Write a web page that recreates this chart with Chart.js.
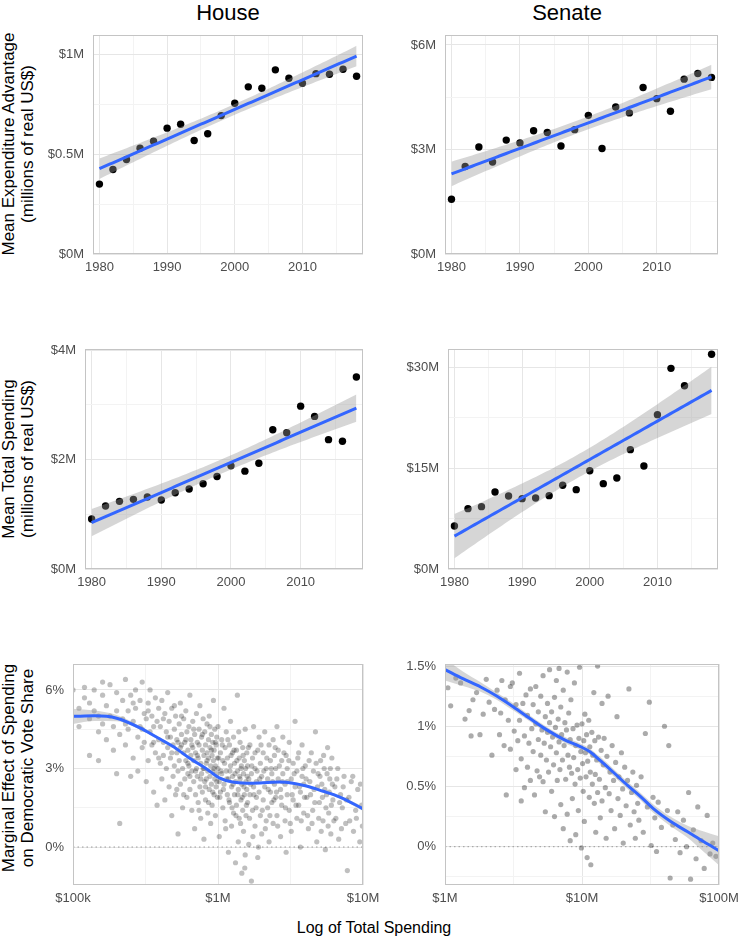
<!DOCTYPE html>
<html>
<head>
<meta charset="utf-8">
<script src="https://cdn.jsdelivr.net/npm/chart.js@4.4.1/dist/chart.umd.min.js"></script>
<style>
  body { margin: 0; width: 742px; height: 940px; background: #fff; position: relative; overflow: hidden;
         font-family: "Liberation Sans", Arial, Helvetica, sans-serif; }
  canvas { position: absolute; }
  .lbl { position: absolute; white-space: nowrap; color: #000; text-align: center;
         transform: translate(-50%, -50%); }
  .ytitle { font-size: 17px; line-height: 19px; transform: translate(-50%, -50%) rotate(-90deg); }
</style>
</head>
<body>
<div class="lbl" style="left:228px;top:13px;font-size:22px">House</div>
<div class="lbl" style="left:567px;top:13px;font-size:22px">Senate</div>
<div class="lbl ytitle" style="left:18px;top:144px">Mean Expenditure Advantage<br>(millions of real US$)</div>
<div class="lbl ytitle" style="left:18px;top:459px">Mean Total Spending<br>(millions of real US$)</div>
<div class="lbl ytitle" style="left:18px;top:768px">Marginal Effect of Spending<br>on Democratic Vote Share</div>
<div class="lbl" style="left:374px;top:928px;font-size:16px">Log of Total Spending</div>

<script>
Chart.defaults.font.family = '"Liberation Sans", Arial, Helvetica, sans-serif';

// ---- election-year series (millions of real US$) ----
var years = [1980, 1982, 1984, 1986, 1988, 1990, 1992, 1994, 1996, 1998,
             2000, 2002, 2004, 2006, 2008, 2010, 2012, 2014, 2016, 2018];
var houseAdvantage = [0.35, 0.423, 0.473, 0.53, 0.565, 0.63, 0.65, 0.568, 0.602, 0.693,
                      0.755, 0.837, 0.83, 0.922, 0.88, 0.855, 0.903, 0.9, 0.925, 0.89];
var senateAdvantage = [1.57, 2.51, 3.07, 2.64, 3.27, 3.19, 3.54, 3.49, 3.10, 3.57,
                       3.98, 3.03, 4.22, 4.05, 4.78, 4.46, 4.10, 5.02, 5.18, 5.07];
var houseTotal = [0.915, 1.152, 1.236, 1.273, 1.315, 1.261, 1.394, 1.461, 1.558, 1.691,
                  1.885, 1.788, 1.933, 2.545, 2.491, 2.976, 2.788, 2.364, 2.333, 3.509];
var senateTotal = [6.41, 8.99, 9.29, 11.47, 10.88, 10.48, 10.58, 10.93, 12.47, 11.82,
                   14.65, 12.72, 13.56, 17.78, 15.35, 23.0, 29.9, 27.3, null, 31.99];

// ---- marginal effect smooths: spending (millions), effect (%), band half-width ----
var houseCurveSpend  = [0.1, 0.141, 0.2, 0.29, 0.376, 0.49, 0.63, 0.83, 1.02, 1.26, 1.57, 1.95, 2.66, 3.29, 4.07, 5.25, 6.92, 10];
var houseCurveEffect = [4.99, 5.01, 4.92, 4.55, 4.20, 3.84, 3.41, 2.99, 2.64, 2.48, 2.44, 2.45, 2.48, 2.44, 2.33, 2.14, 1.91, 1.46];
var houseCurveHalf   = [0.29, 0.2, 0.12, 0.07, 0.05, 0.04, 0.04, 0.04, 0.04, 0.04, 0.04, 0.04, 0.04, 0.04, 0.05, 0.05, 0.06, 0.08];

var senateCurveSpend  = [1.0, 1.35, 1.82, 2.4, 3.16, 4.17, 5.5, 7.4, 9.8, 11.5, 13.5, 17, 21.4, 26.9, 33, 44.7, 59, 77.6, 100];
var senateCurveEffect = [1.47, 1.395, 1.326, 1.249, 1.16, 1.064, 0.972, 0.889, 0.829, 0.787, 0.718, 0.616, 0.511, 0.414, 0.318, 0.207, 0.124, 0.041, -0.033];
var senateCurveHalf   = [0.09, 0.06, 0.04, 0.03, 0.03, 0.025, 0.025, 0.025, 0.025, 0.025, 0.03, 0.03, 0.03, 0.03, 0.035, 0.04, 0.05, 0.085, 0.12];

// ---- candidate-level estimates: [total spending (millions), effect (%)] ----
var housePoints = [
  [0.10,6.0],[0.11,5.3],[0.11,4.6],[0.12,6.1],[0.12,5.7],[0.13,4.9],[0.13,3.5],[0.14,6.0],[0.14,5.2],[0.15,4.4],[0.15,3.3],[0.16,5.8],[0.16,4.7],[0.16,6.3],
  [0.17,5.4],[0.17,4.1],[0.18,6.2],[0.18,5.0],[0.19,3.7],[0.19,4.6],[0.2,5.9],[0.2,2.8],[0.21,4.3],[0.21,0.9],[0.22,5.6],[0.22,4.9],[0.23,6.4],[0.23,3.9],[0.24,5.2],[0.24,4.5],[0.25,2.7],[0.25,5.8],
  [0.26,4.8],[0.26,3.4],[0.27,6.0],[0.27,5.3],[0.28,4.2],[0.28,2.9],[0.29,5.6],[0.29,4.6],[0.3,3.8],[0.3,6.3],[0.31,5.1],[0.31,4.0],[0.32,2.5],[0.32,4.9],[0.33,5.5],[0.33,3.3],[0.34,4.4],[0.34,6.0],[0.35,3.9],[0.35,5.0],[0.36,2.1],[0.36,4.6],[0.37,5.7],[0.37,3.6],[0.38,4.8],[0.38,1.6],[0.39,4.1],[0.39,5.3],
  [0.4,3.2],[0.4,4.6],[0.41,5.6],[0.41,2.6],[0.42,4.0],[0.42,3.5],[0.43,5.1],[0.43,1.8],[0.44,4.4],[0.44,3.0],[0.45,5.9],[0.45,3.8],[0.46,2.3],[0.46,4.8],[0.47,3.4],[0.47,4.2],[0.48,1.2],[0.48,5.3],[0.49,3.9],[0.49,2.7],[0.5,4.5],[0.5,3.1],[0.51,5.0],[0.51,2.0],[0.52,3.6],[0.52,4.1],[0.53,0.5],[0.53,2.9],[0.54,4.7],[0.54,3.3],[0.55,5.5],[0.55,2.4],[0.56,3.9],[0.56,4.3],[0.57,1.5],[0.57,3.0],[0.58,4.9],[0.58,3.6],[0.59,2.6],[0.59,4.0],[0.6,5.2],[0.6,3.3],[0.61,1.9],[0.61,4.4],[0.62,2.8],[0.62,3.7],
  [0.63,4.6],[0.63,3.1],[0.64,2.2],[0.64,5.8],[0.65,3.5],[0.65,4.1],[0.66,1.4],[0.66,2.9],[0.67,3.8],[0.67,4.8],[0.68,2.5],[0.68,3.3],[0.69,0.7],[0.69,4.3],[0.7,3.6],[0.7,2.0],[0.71,5.1],[0.71,3.0],[0.72,4.0],[0.72,2.7],[0.73,1.7],[0.73,3.4],[0.74,4.5],[0.74,3.9],[0.75,2.3],[0.75,5.4],[0.76,3.2],[0.76,1.1],[0.77,4.2],[0.77,2.8],[0.78,3.7],[0.78,2.1],[0.79,4.9],[0.79,3.0],[0.8,0.3],[0.8,3.5],[0.81,2.5],[0.81,4.4],[0.82,1.8],[0.82,3.9],[0.83,3.2],[0.83,2.6],[0.84,4.7],[0.84,3.6],[0.85,1.3],[0.85,2.9],[0.86,4.1],[0.86,3.4],[0.87,2.2],[0.87,5.0],[0.88,3.8],[0.88,2.7],[0.89,0.9],[0.89,3.1],[0.9,4.3],[0.9,2.4],[0.91,3.5],[0.91,1.6],[0.92,4.0],[0.92,2.9],[0.93,3.3],[0.93,5.6],[0.94,2.0],[0.94,3.7],[0.95,2.6],[0.95,4.5],[0.96,1.2],[0.96,3.1],[0.97,3.9],[0.97,2.3],[0.98,4.2],[0.98,2.8],[0.99,3.4],[0.99,1.9],
  [1.0,3.0],[1.0,4.6],[1.02,2.5],[1.02,0.4],[1.04,3.6],[1.04,2.1],[1.06,4.1],[1.06,2.8],[1.08,1.5],[1.08,3.3],[1.1,5.3],[1.1,2.4],[1.12,3.8],[1.12,1.0],[1.14,2.9],[1.14,4.4],[1.16,2.0],[1.16,3.4],[1.18,-0.2],[1.18,2.6],[1.2,3.9],[1.2,1.7],[1.22,3.1],[1.22,4.8],[1.24,2.3],[1.24,0.8],[1.26,3.6],[1.26,2.7],[1.28,1.3],[1.28,4.2],[1.3,2.0],[1.3,3.2],[1.32,-0.6],[1.32,2.5],[1.34,3.7],[1.34,1.6],[1.36,2.9],[1.36,5.8],[1.38,0.2],[1.38,2.2],[1.4,3.4],[1.4,1.1],[1.42,4.0],[1.42,2.6],[1.44,1.8],[1.44,3.0],[1.46,-1.0],[1.46,2.4],[1.48,3.8],[1.48,1.4],[1.5,2.8],[1.5,0.6],[1.52,3.3],[1.52,2.0],[1.54,4.5],[1.54,-0.3],[1.56,2.5],[1.56,1.2],[1.58,3.6],[1.58,2.2],
  [1.6,1.7],[1.6,3.1],[1.63,2.6],[1.63,0.1],[1.66,3.9],[1.66,2.0],[1.7,-1.3],[1.7,2.8],[1.73,1.4],[1.73,3.4],[1.76,2.3],[1.76,4.6],[1.8,0.8],[1.8,3.0],[1.84,2.5],[1.84,1.9],[1.88,3.7],[1.88,-0.4],[1.92,2.1],[1.92,4.2],[1.96,1.2],[1.96,3.2],[2.0,2.7],[2.0,0.5],[2.05,3.6],[2.05,1.8],[2.1,2.3],[2.1,4.4],[2.15,1.0],[2.15,3.0],[2.2,2.6],[2.2,1.5],[2.25,3.9],[2.25,0.2],[2.3,2.1],[2.3,3.3],[2.35,1.7],[2.35,2.8],[2.4,4.1],[2.4,0.9],[2.45,2.4],[2.45,3.5],
  [2.5,1.9],[2.5,3.0],[2.55,4.6],[2.55,1.2],[2.6,2.6],[2.6,3.7],[2.7,0.4],[2.7,2.2],[2.75,3.3],[2.75,1.6],[2.8,2.8],[2.8,4.2],[2.9,1.0],[2.9,2.4],[2.95,3.5],[2.95,-0.2],[3.0,2.0],[3.0,3.0],[3.1,1.4],[3.1,4.0],[3.2,2.6],[3.2,0.6],[3.3,3.2],[3.3,1.8],[3.4,2.3],[3.4,4.8],[3.5,1.1],[3.5,2.9],[3.6,3.6],[3.6,1.6],[3.7,2.1],[3.7,0.0],[3.8,2.7],[3.8,3.9],[3.9,1.3],[3.9,2.4],
  [4.0,3.1],[4.1,1.9],[4.2,0.7],[4.3,2.5],[4.4,3.6],[4.5,1.4],[4.6,2.2],[4.7,4.4],[4.8,0.2],[4.9,2.8],[5.0,1.7],[5.1,3.3],[5.2,2.4],[5.3,1.0],[5.4,3.0],[5.5,-0.1],[5.6,2.0],[5.7,3.8],[5.8,1.3],[5.9,2.6],[6.0,0.5],[6.1,3.4],[6.2,1.8],
  [6.4,2.3],[6.5,1.1],[6.7,3.0],[6.8,0.3],[7.0,2.0],[7.2,1.5],[7.4,2.7],[7.6,0.9],[7.8,-0.9],[8.0,1.9],[8.3,2.5],[8.6,0.6],[8.9,1.4],[9.2,2.2],[9.5,0.2],[9.8,1.6],
  [0.52,2.2],[0.55,3.8],[0.58,2.0],[0.6,4.1],[0.62,3.2],[0.64,2.7],[0.66,3.9],[0.68,4.5],[0.7,2.9],[0.72,3.5],[0.74,1.4],[0.76,2.6],[0.78,4.3],[0.8,3.0],[0.82,2.3],[0.84,3.3],[0.86,1.7],[0.88,4.6],[0.9,3.7],[0.92,2.1],[0.94,3.0],[0.96,4.0],[0.98,2.5],
  [1.01,3.4],[1.03,1.9],[1.05,2.9],[1.07,3.9],[1.09,2.2],[1.11,3.2],[1.13,0.7],[1.15,2.6],[1.17,4.1],[1.19,1.8],[1.21,2.9],[1.23,3.5],[1.25,1.5],[1.27,2.4],[1.29,3.7],[1.31,2.8],[1.33,1.2],[1.35,3.3],[1.37,2.0],[1.39,4.4],[1.41,2.7],[1.43,0.9],[1.45,3.1],[1.47,1.9],[1.49,3.5],[1.51,2.3],[1.53,-0.8],[1.55,3.0],[1.57,1.6],[1.59,2.7],
  [1.62,3.8],[1.65,1.1],[1.68,2.4],[1.71,3.1],[1.74,0.4],[1.77,2.0],[1.8,3.6],[1.83,1.5],[1.86,2.9],[1.9,0.0],[1.94,2.6],[1.98,3.9],[2.02,1.4],[2.07,2.9],[2.12,0.7],[2.17,3.4],[2.22,2.2],[2.28,1.2],[2.33,3.0],[2.38,2.5],[2.43,1.8],[2.48,3.8],
  [2.53,2.1],[2.58,0.8],[2.65,3.1],[2.72,1.9],[2.78,2.5],[2.85,3.6],[2.92,1.5],[3.0,2.5],[3.08,3.3],[3.15,0.9],[3.25,2.0],[3.35,2.8],[3.45,1.6],[3.55,3.4],[3.65,2.3],[3.75,1.0],[3.85,3.0],[3.95,1.9],
  [4.05,2.6],[4.15,1.2],[4.25,3.3],[4.35,2.0],[4.45,0.9],[4.55,2.9],[4.65,1.7],[4.75,3.2],[4.85,2.3],[4.95,1.1],[5.05,2.7],[5.15,0.6],[5.25,1.9],[5.35,3.5],[5.45,2.2],[5.55,1.5],[5.65,2.8],[5.75,0.8],[5.85,2.1],[5.95,3.0],[6.05,1.6],[6.15,2.4],
  [6.3,1.0],[6.6,2.6],[6.9,1.7],[7.1,0.7],[7.3,2.3],[7.7,1.8],[8.1,1.0],[8.5,2.7],[9.0,1.1],[9.6,2.4],[9.9,0.8],
  [0.3,4.5],[0.33,5.2],[0.36,4.0],[0.39,3.4],[0.42,4.9],[0.45,4.2],[0.48,3.6],[0.5,5.4],[0.53,4.0],[0.56,5.0],[0.2,5.2],[0.23,4.7],[0.26,5.5],[0.13,5.5],[0.15,5.0]
];

var senatePoints = [
  [1.05,1.32],[1.1,1.17],[1.2,1.40],[1.3,1.36],[1.4,1.06],[1.5,1.13],[1.55,0.92],[1.6,1.22],[1.7,1.28],[1.8,0.93],[1.9,1.10],[2.0,1.39],[2.1,1.20],[2.2,0.76],[2.3,1.14],[2.4,1.30],[2.5,0.93],[2.55,1.11],[2.6,1.38],[2.7,0.84],[2.75,1.22],[2.8,0.43],[2.9,1.05],[3.0,1.33],[3.0,0.81],[3.1,1.36],[3.2,0.96],[3.3,0.64],[3.3,1.18],[3.4,0.88],[3.5,1.44],[3.5,1.05],[3.6,0.38],[3.6,0.73],[3.7,1.19],[3.8,0.92],[3.8,0.49],[3.9,1.26],[4.0,0.66],[4.0,1.09],[4.1,0.86],[4.2,1.31],[4.2,0.55],[4.3,0.98],[4.4,1.18],[4.4,0.79],[4.5,0.43],[4.6,1.02],[4.6,1.33],[4.7,0.63],[4.8,0.89],[4.8,1.12],[4.9,0.58],[5.0,1.25],[5.0,0.76],[5.1,0.97],[5.2,1.42],[5.2,0.54],[5.3,0.86],[5.4,1.08],[5.4,0.29],[5.5,0.72],[5.6,1.19],[5.6,0.95],[5.7,0.62],[5.8,1.03],[5.8,1.47],[5.9,0.83],[6.0,0.46],[6.0,1.12],[6.1,0.91],[6.2,0.68],[6.3,1.24],[6.3,0.25],[6.4,0.99],[6.5,0.78],[6.5,1.38],[6.6,0.55],[6.7,1.06],[6.8,0.87],[6.8,1.48],[6.9,0.64],[7.0,1.16],[7.0,0.35],[7.1,0.93],[7.2,0.72],[7.3,1.30],[7.3,0.15],[7.4,0.84],[7.5,1.03],[7.6,0.56],[7.7,0.97],[7.8,1.45],[7.8,0.27],[7.9,0.76],[8.0,1.11],[8.1,0.66],[8.2,0.05],[8.2,0.89],[8.3,1.22],[8.4,0.61],[8.5,0.40],[8.6,0.98],[8.7,0.74],[8.8,1.36],[8.9,0.52],[9.0,0.84],[9.0,0.10],[9.2,1.01],[9.3,0.64],[9.4,0.30],[9.5,0.90],[9.6,1.49],[9.7,0.57],[9.8,0.79],[9.9,-0.01],
  [10.0,1.02],[10.1,0.69],[10.2,0.46],[10.3,0.88],[10.4,0.21],[10.5,1.10],[10.6,0.78],[10.7,0.58],[10.8,0.93],[10.9,-0.09],[11.0,0.71],[11.2,1.05],[11.3,0.41],[11.4,0.83],[11.5,0.62],[11.6,-0.15],[11.8,0.95],[11.9,0.52],[12.0,0.76],[12.2,1.28],[12.3,0.36],[12.4,0.88],[12.5,0.60],[12.6,0.12],[12.8,0.72],[13.0,1.50],[13.0,0.45],[13.2,0.91],[13.4,0.56],[13.6,0.24],[13.8,0.80],[14.0,1.19],[14.0,0.38],[14.3,0.68],[14.5,0.90],[14.8,0.49],[15.0,0.07],[15.2,0.75],[15.5,1.25],[15.8,0.44],[16.0,0.62],[16.3,0.30],[16.6,0.84],[17.0,0.55],[17.3,0.15],[17.6,0.70],[18.0,1.08],[18.3,0.40],[18.6,0.58],[19.0,0.26],[19.4,0.78],[19.8,0.48],
  [20.0,0.03],[20.5,0.66],[21.0,0.34],[21.5,0.55],[22.0,1.31],[22.5,0.18],[23.0,0.45],[23.5,0.62],[24.0,0.29],[24.5,0.07],[25.0,0.51],[25.5,0.36],[26.0,0.22],[27.0,0.58],[28.0,0.12],[29.0,0.94],[30.0,0.33],[31.0,1.20],[32.0,0.01],[33.0,0.41],[34.0,0.24],[35.0,-0.04],[36.0,0.37],[38.0,0.16],[40.0,1.00],[42.0,0.30],[43.0,0.84],[44.0,-0.26],[46.0,0.18],[48.0,0.06],[50.0,0.29],[52.0,-0.05],[55.0,0.22],[58.0,0.00],[60.0,0.45],[62.0,-0.27],[65.0,0.14],[68.0,-0.10],[70.0,0.33],[74.0,0.05],[78.0,-0.18],[82.0,0.26],[86.0,-0.06],[90.0,0.03],[95.0,-0.08]
];

var BLUE = "#3366FF";
var BAND = "rgba(153,153,153,0.4)";
var PL = 2, YW = 62, PR = 30, PT = 8, XH = 26, PB = 2;

// ordinary least squares fit with 95% confidence band
function lmFit(xs, ys) {
  var pts = xs.map(function (x, i) { return [x, ys[i]]; }).filter(function (p) { return p[1] != null; });
  var n = pts.length, mx = 0, my = 0;
  pts.forEach(function (p) { mx += p[0] / n; my += p[1] / n; });
  var sxx = 0, sxy = 0;
  pts.forEach(function (p) { sxx += (p[0] - mx) * (p[0] - mx); sxy += (p[0] - mx) * (p[1] - my); });
  var b = sxy / sxx, a = my - b * mx, rss = 0;
  pts.forEach(function (p) { rss += Math.pow(p[1] - a - b * p[0], 2); });
  var s = Math.sqrt(rss / (n - 2));
  var t = n === 19 ? 2.110 : 2.101;
  var fit = [], lo = [], hi = [];
  for (var x = xs[0]; x <= xs[xs.length - 1] + 1e-9; x += 0.5) {
    var y = a + b * x, se = s * Math.sqrt(1 / n + (x - mx) * (x - mx) / sxx);
    fit.push({ x: x, y: y }); lo.push({ x: x, y: y - t * se }); hi.push({ x: x, y: y + t * se });
  }
  return { fit: fit, lo: lo, hi: hi };
}

function lmSets(xs, ys) {
  var f = lmFit(xs, ys);
  return [
    { type: "line", data: f.fit, borderColor: BLUE, borderWidth: 3, pointRadius: 0, order: 0 },
    { type: "line", data: f.hi, borderWidth: 0, pointRadius: 0, fill: false, order: 1 },
    { type: "line", data: f.lo, borderWidth: 0, pointRadius: 0, fill: "-1", backgroundColor: BAND, order: 1 },
    { type: "scatter", data: xs.map(function (x, i) { return { x: x, y: ys[i] }; }).filter(function (p) { return p.y != null; }),
      pointRadius: 3.7, backgroundColor: "#000", borderWidth: 0, order: 2 }
  ];
}

function smoothSets(spend, effect, half, points, alpha, radius, xmin, xmax) {
  return [
    { type: "line", data: spend.map(function (x, i) { return { x: x, y: effect[i] }; }),
      borderColor: BLUE, borderWidth: 3, pointRadius: 0, cubicInterpolationMode: "monotone", order: 0 },
    { type: "line", data: spend.map(function (x, i) { return { x: x, y: effect[i] + half[i] }; }),
      borderWidth: 0, pointRadius: 0, cubicInterpolationMode: "monotone", fill: false, order: 1 },
    { type: "line", data: spend.map(function (x, i) { return { x: x, y: effect[i] - half[i] }; }),
      borderWidth: 0, pointRadius: 0, cubicInterpolationMode: "monotone", fill: "-1", backgroundColor: BAND, order: 1 },
    { type: "scatter", data: points.map(function (p) { return { x: p[0], y: p[1] }; }),
      pointRadius: radius, backgroundColor: "rgba(0,0,0," + alpha + ")", borderWidth: 0, order: 2 },
    { type: "line", data: [{ x: xmin, y: 0 }, { x: xmax, y: 0 }], borderColor: "#9a9a9a",
      borderWidth: 1, borderDash: [1.5, 3], pointRadius: 0, order: 3 }
  ];
}

var framePlugin = {
  id: "frame",
  afterDatasetsDraw: function (chart) {
    var a = chart.chartArea, g = chart.ctx;
    g.save();
    g.strokeStyle = "#c4c4c4";
    g.lineWidth = 1;
    g.strokeRect(a.left + 0.5, a.top + 0.5, a.right - a.left - 1, a.bottom - a.top - 1);
    g.restore();
  }
};

function axis(cfg, isX) {
  var ticks = cfg.major.concat(cfg.minor).sort(function (p, q) { return p - q; });
  return {
    type: cfg.type || "linear",
    position: isX ? "bottom" : "left",
    min: cfg.min, max: cfg.max,
    afterBuildTicks: function (s) { s.ticks = ticks.map(function (v) { return { value: v }; }); },
    afterFit: function (s) {
      if (isX) { s.height = XH; s.paddingLeft = 0; s.paddingRight = 0; }
      else { s.width = YW; s.paddingTop = 0; s.paddingBottom = 0; }
    },
    ticks: {
      autoSkip: false, maxRotation: 0, minRotation: 0,
      padding: isX ? 6 : 9,
      color: "#4d4d4d",
      font: { size: 13 },
      callback: function (v) {
        var hit = cfg.major.some(function (m) { return Math.abs(m - v) < 1e-9 * Math.max(1, Math.abs(m)); });
        return hit ? cfg.fmt(v) : "";
      }
    },
    grid: {
      drawTicks: false,
      color: function (c) { return c.tick && c.tick.label ? "#e6e6e6" : "#f3f3f3"; },
      lineWidth: 1
    },
    border: { display: false }
  };
}

function panel(rect, xCfg, yCfg, datasets) {
  var c = document.createElement("canvas");
  var W = PL + YW + rect.w + PR, H = PT + rect.h + XH + PB;
  c.width = W; c.height = H;
  c.style.left = (rect.x - YW - PL) + "px";
  c.style.top = (rect.y - PT) + "px";
  document.body.appendChild(c);
  new Chart(c.getContext("2d"), {
    type: "scatter",
    data: { datasets: datasets },
    options: {
      responsive: false, devicePixelRatio: 1, animation: false, events: [],
      layout: { padding: { left: PL, right: PR, top: PT, bottom: PB } },
      plugins: { legend: { display: false }, tooltip: { enabled: false } },
      scales: { x: axis(xCfg, true), y: axis(yCfg, false) }
    },
    plugins: [framePlugin]
  });
}

var yearAxis = { min: 1979.05, max: 2018.95, major: [1980, 1990, 2000, 2010], minor: [1985, 1995, 2005, 2015],
                 fmt: function (v) { return String(v); } };
function money(v) { return "$" + v + "M"; }
function pct(v) { return v + "%"; }
function spendLabel(v) { return v < 1 ? "$" + Math.round(v * 1000) + "k" : "$" + Math.round(v) + "M"; }

panel({ x: 93, y: 35, w: 270, h: 219 }, yearAxis,
      { min: 0, max: 1.0965, major: [0, 0.5, 1], minor: [0.25, 0.75], fmt: money },
      lmSets(years, houseAdvantage));
panel({ x: 445, y: 35, w: 273, h: 219 }, yearAxis,
      { min: 0, max: 6.287, major: [0, 3, 6], minor: [1.5, 4.5], fmt: money },
      lmSets(years, senateAdvantage));
panel({ x: 85, y: 349, w: 278, h: 220 }, yearAxis,
      { min: 0, max: 4.02, major: [0, 2, 4], minor: [1, 3], fmt: money },
      lmSets(years, houseTotal));
panel({ x: 448, y: 349, w: 270, h: 220 }, yearAxis,
      { min: 0, max: 32.78, major: [0, 15, 30], minor: [7.5, 22.5], fmt: money },
      lmSets(years, senateTotal));
panel({ x: 73, y: 664, w: 290, h: 221 },
      { type: "logarithmic", min: 0.1, max: 10, major: [0.1, 1, 10], minor: [Math.sqrt(0.1), Math.sqrt(10)], fmt: spendLabel },
      { min: -1.45, max: 6.99, major: [0, 3, 6], minor: [1.5, 4.5], fmt: pct },
      smoothSets(houseCurveSpend, houseCurveEffect, houseCurveHalf, housePoints, 0.25, 2.6, 0.1, 10));
panel({ x: 445, y: 664, w: 274, h: 221 },
      { type: "logarithmic", min: 1, max: 100, major: [1, 10, 100], minor: [Math.sqrt(10), Math.sqrt(1000)], fmt: spendLabel },
      { min: -0.318, max: 1.517, major: [0, 0.5, 1, 1.5], minor: [-0.25, 0.25, 0.75, 1.25], fmt: pct },
      smoothSets(senateCurveSpend, senateCurveEffect, senateCurveHalf, senatePoints, 0.33, 2.6, 1, 100));
</script>
</body>
</html>
